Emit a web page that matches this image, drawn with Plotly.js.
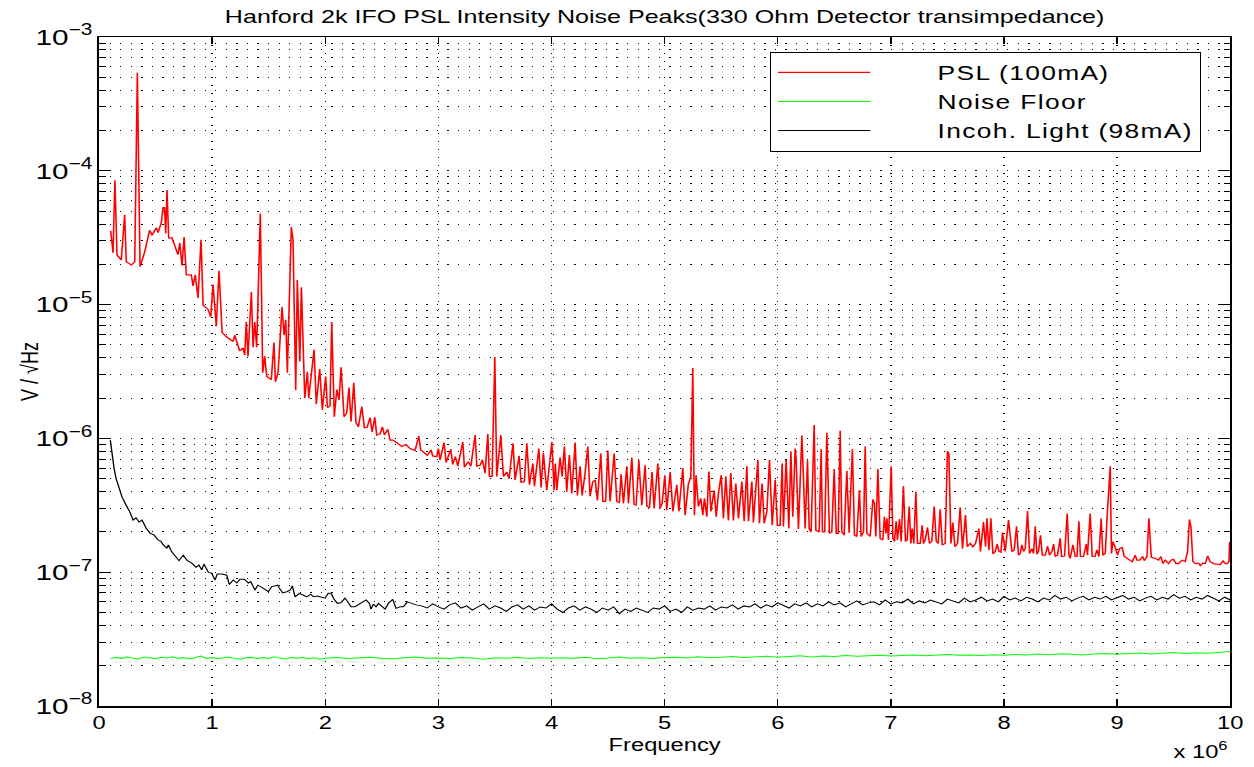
<!DOCTYPE html>
<html><head><meta charset="utf-8">
<script src="https://cdn.plot.ly/plotly-3.0.1.min.js"></script>
<style>
html,body{margin:0;padding:0;background:#fff;overflow:hidden;}
#wrap{width:1254px;height:767px;overflow:hidden;}
#chart{width:950px;height:767px;transform:scaleX(1.32);transform-origin:0 0;}
.legendtext{letter-spacing:1px;}
</style></head><body><div id="wrap"><div id="chart"></div></div>
<script>
// Frequencies in MHz (axis shows "x 10^6"), amplitudes in V/sqrt(Hz)
const pslFreq = [0.103,0.124,0.141,0.159,0.197,0.227,0.241,0.286,0.316,0.339,0.363,0.404,0.448,0.469,0.507,0.522,0.551,0.566,0.579,0.590,0.601,0.616,0.645,0.669,0.698,0.714,0.734,0.752,0.772,0.816,0.831,0.851,0.875,0.902,0.920,0.964,0.988,1.008,1.037,1.061,1.088,1.126,1.185,1.200,1.244,1.273,1.288,1.302,1.317,1.347,1.362,1.377,1.394,1.426,1.447,1.465,1.483,1.523,1.547,1.559,1.583,1.618,1.636,1.651,1.665,1.700,1.715,1.739,1.753,1.775,1.789,1.819,1.842,1.854,1.901,1.921,1.951,1.974,2.004,2.019,2.042,2.057,2.080,2.102,2.122,2.140,2.166,2.190,2.210,2.228,2.252,2.272,2.293,2.323,2.346,2.370,2.396,2.414,2.438,2.455,2.485,2.505,2.523,2.553,2.573,2.600,2.632,2.677,2.714,2.750,2.794,2.827,2.844,2.882,2.903,2.935,2.950,2.985,3.000,3.015,3.050,3.068,3.110,3.127,3.150,3.172,3.216,3.230,3.265,3.287,3.325,3.340,3.369,3.389,3.413,3.437,3.451,3.475,3.499,3.516,3.552,3.575,3.605,3.625,3.660,3.678,3.714,3.731,3.760,3.782,3.805,3.835,3.849,3.888,3.908,3.928,3.958,4.003,4.023,4.034,4.047,4.076,4.094,4.114,4.135,4.158,4.179,4.209,4.229,4.253,4.271,4.297,4.321,4.341,4.365,4.386,4.406,4.436,4.454,4.478,4.498,4.518,4.554,4.577,4.600,4.615,4.636,4.666,4.680,4.710,4.730,4.748,4.772,4.798,4.828,4.843,4.866,4.889,4.907,4.940,4.960,4.978,5.002,5.019,5.049,5.073,5.108,5.126,5.161,5.181,5.210,5.232,5.249,5.263,5.278,5.299,5.320,5.338,5.352,5.373,5.391,5.409,5.438,5.456,5.476,5.500,5.520,5.541,5.564,5.585,5.608,5.629,5.653,5.683,5.703,5.727,5.741,5.771,5.785,5.824,5.838,5.862,5.880,5.904,5.927,5.951,5.977,5.997,6.021,6.039,6.050,6.074,6.098,6.116,6.133,6.154,6.163,6.183,6.213,6.227,6.242,6.263,6.278,6.295,6.322,6.337,6.366,6.384,6.395,6.415,6.434,6.457,6.478,6.499,6.517,6.534,6.552,6.567,6.587,6.611,6.631,6.660,6.678,6.699,6.722,6.737,6.758,6.773,6.788,6.817,6.841,6.855,6.867,6.885,6.905,6.929,6.943,6.956,6.965,6.979,7.003,7.018,7.032,7.047,7.058,7.076,7.091,7.111,7.129,7.144,7.162,7.177,7.188,7.203,7.221,7.235,7.259,7.277,7.288,7.303,7.324,7.341,7.362,7.383,7.401,7.418,7.436,7.454,7.480,7.500,7.513,7.531,7.548,7.566,7.589,7.613,7.633,7.660,7.675,7.701,7.725,7.748,7.778,7.792,7.819,7.837,7.849,7.867,7.884,7.902,7.922,7.940,7.955,7.973,7.987,8.011,8.040,8.070,8.090,8.111,8.128,8.143,8.158,8.173,8.188,8.208,8.226,8.247,8.261,8.276,8.291,8.305,8.323,8.338,8.365,8.385,8.402,8.424,8.438,8.453,8.473,8.497,8.509,8.535,8.559,8.574,8.585,8.609,8.630,8.645,8.662,8.676,8.703,8.727,8.738,8.762,8.780,8.804,8.821,8.839,8.859,8.874,8.895,8.915,8.939,8.950,8.963,8.981,9.004,9.021,9.045,9.063,9.087,9.116,9.134,9.160,9.175,9.200,9.225,9.240,9.264,9.281,9.302,9.337,9.366,9.387,9.405,9.426,9.454,9.476,9.499,9.520,9.543,9.573,9.602,9.623,9.639,9.652,9.670,9.691,9.720,9.735,9.759,9.779,9.800,9.823,9.852,9.882,9.912,9.935,9.956,9.976,9.989,9.994];
const pslAmp = [3.56e-5,2.44e-5,8.5e-5,2.35e-5,2.16e-5,4.7e-5,2.09e-5,1.98e-5,2.09e-5,5.4e-4,1.92e-5,2.48e-5,3.6e-5,3.3e-5,3.75e-5,3.45e-5,4.1e-5,5.3e-5,5.3e-5,3.4e-5,7.2e-5,3.15e-5,3.15e-5,2.7e-5,2.36e-5,2.9e-5,1.95e-5,3.2e-5,1.67e-5,1.67e-5,1.38e-5,1.67e-5,1.12e-5,3.05e-5,9.9e-6,9.2e-6,8.1e-6,1.41e-5,6.9e-6,1.79e-5,6.2e-6,5.75e-6,5.3e-6,5.9e-6,4.5e-6,4.75e-6,4.2e-6,7.4e-6,4.1e-6,1.24e-5,4.8e-6,7.4e-6,4.8e-6,4.8e-5,3.1e-6,4.1e-6,2.9e-6,2.75e-6,5.2e-6,2.65e-6,3.1e-6,9.6e-6,5.9e-6,7.7e-6,3.1e-6,3.8e-5,3.04e-5,2.3e-6,1.53e-5,3.75e-6,1.35e-5,2.0e-6,3.15e-6,2.0e-6,4.6e-6,1.8e-6,3.3e-6,1.64e-6,2.9e-6,1.7e-6,1.75e-6,7.4e-6,1.45e-6,2.32e-6,1.94e-6,3.4e-6,1.45e-6,1.55e-6,2.4e-6,1.33e-6,2.6e-6,1.31e-6,1.22e-6,1.73e-6,1.2e-6,1.21e-6,1.43e-6,1.12e-6,1.44e-6,1.06e-6,1.08e-6,1.22e-6,1.06e-6,1.17e-6,9.7e-7,9.7e-7,9.2e-7,8.7e-7,9.0e-7,8.4e-7,8.1e-7,1.04e-6,8.2e-7,7.8e-7,7.5e-7,8.2e-7,7.4e-7,7.3e-7,8.4e-7,6.9e-7,9.3e-7,6.6e-7,8.3e-7,6.4e-7,7.3e-7,6.2e-7,9.4e-7,6.1e-7,6.7e-7,6.2e-7,1.06e-6,6.2e-7,6.3e-7,6.9e-7,5.5e-7,1.08e-6,5.2e-7,5.2e-7,4.06e-6,5.2e-7,1.06e-6,5.2e-7,5.6e-7,5.0e-7,9.2e-7,4.9e-7,7.4e-7,4.7e-7,4.75e-7,9.2e-7,4.5e-7,6.5e-7,4.4e-7,8.4e-7,4.3e-7,7.8e-7,4.1e-7,9.4e-7,4.1e-7,6.5e-7,4.1e-7,7.2e-7,5.2e-7,8.7e-7,4.0e-7,7.5e-7,3.88e-7,9.3e-7,3.75e-7,6.2e-7,3.75e-7,5.5e-7,8.7e-7,3.7e-7,4.75e-7,4.9e-7,3.44e-7,7.7e-7,3.38e-7,3.38e-7,8.1e-7,3.38e-7,7.7e-7,3.38e-7,3.32e-7,5.4e-7,3.27e-7,6.2e-7,3.27e-7,7.2e-7,3.21e-7,3.17e-7,6.85e-7,3.17e-7,6.3e-7,3.1e-7,3.05e-7,5.6e-7,3.0e-7,6.5e-7,3.0e-7,3.27e-7,5.3e-7,2.9e-7,5.6e-7,2.85e-7,4.5e-7,2.85e-7,6.0e-7,2.67e-7,4.55e-7,5.2e-7,3.36e-6,2.67e-7,5.3e-7,3.1e-7,3.56e-7,2.67e-7,3.56e-7,2.6e-7,5.65e-7,2.85e-7,4.1e-7,2.6e-7,3.9e-7,5.3e-7,2.52e-7,5.2e-7,2.44e-7,5.5e-7,2.44e-7,4.6e-7,2.52e-7,4.75e-7,2.4e-7,6.2e-7,2.4e-7,4.75e-7,2.35e-7,6.9e-7,2.32e-7,4.6e-7,2.32e-7,2.85e-7,6.9e-7,2.24e-7,4.9e-7,2.24e-7,2.24e-7,6.5e-7,2.2e-7,6.9e-7,2.12e-7,8.0e-7,2.6e-7,8.4e-7,7.0e-7,2.1e-7,1.05e-6,5.2e-7,2.12e-7,6.85e-7,2.12e-7,2.0e-7,1.26e-6,2.06e-7,2.0e-7,8.3e-7,2.0e-7,2.0e-7,1.1e-6,1.95e-7,2.0e-7,5.9e-7,1.95e-7,1.95e-7,1.14e-6,2.0e-7,1.89e-7,5.7e-7,1.97e-7,8.3e-7,1.89e-7,1.85e-7,4.1e-7,1.85e-7,2.0e-7,8.7e-7,1.95e-7,1.85e-7,3.5e-7,3.27e-7,1.85e-7,5.9e-7,1.79e-7,1.74e-7,2.6e-7,1.95e-7,2.53e-7,1.74e-7,6.2e-7,1.79e-7,1.7e-7,2.4e-7,1.74e-7,2.5e-7,1.7e-7,4.4e-7,1.7e-7,1.74e-7,3.1e-7,1.64e-7,2.12e-7,1.64e-7,4.0e-7,1.64e-7,1.64e-7,2.24e-7,1.64e-7,1.74e-7,2.16e-7,1.64e-7,1.7e-7,3.1e-7,1.7e-7,1.64e-7,2.95e-7,1.6e-7,1.64e-7,8.0e-7,7.7e-7,1.64e-7,2.35e-7,1.55e-7,1.64e-7,3.05e-7,1.5e-7,2.67e-7,1.55e-7,1.64e-7,1.55e-7,1.64e-7,2.12e-7,1.43e-7,2.37e-7,1.55e-7,2.53e-7,1.46e-7,2.53e-7,1.37e-7,1.43e-7,1.62e-7,1.43e-7,1.41e-7,1.98e-7,1.43e-7,2.45e-7,1.43e-7,1.46e-7,2.2e-7,1.34e-7,1.38e-7,1.6e-7,1.43e-7,1.5e-7,2.86e-7,1.38e-7,1.5e-7,1.38e-7,2.2e-7,1.36e-7,1.43e-7,1.89e-7,1.34e-7,1.34e-7,1.57e-7,1.34e-7,1.43e-7,1.62e-7,1.31e-7,1.34e-7,1.79e-7,1.31e-7,1.32e-7,2.75e-7,1.34e-7,1.27e-7,1.6e-7,1.31e-7,1.31e-7,2.4e-7,1.31e-7,1.31e-7,1.62e-7,1.34e-7,2.75e-7,1.31e-7,1.31e-7,1.46e-7,1.31e-7,2.52e-7,1.34e-7,1.38e-7,2.9e-7,6.2e-7,1.38e-7,1.69e-7,1.55e-7,1.34e-7,1.5e-7,1.53e-7,1.31e-7,1.27e-7,1.23e-7,1.2e-7,1.34e-7,1.23e-7,1.23e-7,1.31e-7,1.22e-7,1.31e-7,2.53e-7,1.29e-7,1.27e-7,1.23e-7,1.31e-7,1.16e-7,1.23e-7,1.16e-7,1.23e-7,1.25e-7,1.16e-7,1.16e-7,1.23e-7,1.2e-7,1.43e-7,2.48e-7,2.2e-7,1.2e-7,1.16e-7,1.17e-7,1.12e-7,1.17e-7,1.16e-7,1.32e-7,1.2e-7,1.16e-7,1.15e-7,1.14e-7,1.22e-7,1.16e-7,1.16e-7,1.2e-7,1.69e-7];

const floorFreq = [0.1,0.15,0.2,0.25,0.3,0.35,0.4,0.45,0.5,0.55,0.6,0.65,0.7,0.75,0.8,0.85,0.9,0.95,1.0,1.05,1.1,1.15,1.2,1.25,1.3,1.35,1.4,1.45,1.5,1.55,1.6,1.65,1.7,1.75,1.8,1.85,1.9,1.95,2.0,2.1,2.2,2.3,2.4,2.5,2.6,2.7,2.8,2.9,3.0,3.1,3.2,3.3,3.4,3.5,3.6,3.7,3.8,3.9,4.0,4.1,4.2,4.3,4.4,4.5,4.6,4.7,4.8,4.9,5.0,5.1,5.2,5.3,5.4,5.5,5.6,5.7,5.8,5.9,6.0,6.1,6.2,6.3,6.4,6.5,6.6,6.7,6.8,6.9,7.0,7.1,7.2,7.3,7.4,7.5,7.6,7.7,7.8,7.9,8.0,8.1,8.2,8.3,8.4,8.5,8.6,8.7,8.8,8.9,9.0,9.1,9.2,9.3,9.4,9.5,9.6,9.7,9.8,9.9,10.0];
const floorAmp = [2.26e-8,2.31e-8,2.27e-8,2.33e-8,2.28e-8,2.25e-8,2.32e-8,2.29e-8,2.26e-8,2.31e-8,2.28e-8,2.33e-8,2.27e-8,2.30e-8,2.25e-8,2.29e-8,2.36e-8,2.27e-8,2.30e-8,2.26e-8,2.29e-8,2.32e-8,2.27e-8,2.24e-8,2.29e-8,2.31e-8,2.26e-8,2.30e-8,2.27e-8,2.33e-8,2.28e-8,2.25e-8,2.30e-8,2.27e-8,2.31e-8,2.26e-8,2.29e-8,2.24e-8,2.27e-8,2.30e-8,2.26e-8,2.29e-8,2.31e-8,2.27e-8,2.25e-8,2.29e-8,2.32e-8,2.27e-8,2.28e-8,2.26e-8,2.30e-8,2.28e-8,2.24e-8,2.29e-8,2.27e-8,2.31e-8,2.26e-8,2.29e-8,2.27e-8,2.29e-8,2.27e-8,2.31e-8,2.26e-8,2.28e-8,2.32e-8,2.27e-8,2.29e-8,2.26e-8,2.30e-8,2.31e-8,2.28e-8,2.33e-8,2.29e-8,2.31e-8,2.34e-8,2.30e-8,2.32e-8,2.35e-8,2.31e-8,2.34e-8,2.37e-8,2.32e-8,2.36e-8,2.34e-8,2.38e-8,2.35e-8,2.37e-8,2.39e-8,2.36e-8,2.38e-8,2.41e-8,2.37e-8,2.40e-8,2.43e-8,2.39e-8,2.41e-8,2.38e-8,2.42e-8,2.40e-8,2.43e-8,2.41e-8,2.45e-8,2.42e-8,2.46e-8,2.44e-8,2.41e-8,2.45e-8,2.47e-8,2.44e-8,2.46e-8,2.49e-8,2.45e-8,2.48e-8,2.51e-8,2.47e-8,2.50e-8,2.48e-8,2.52e-8,2.55e-8];

const incohFreq = [0.100,0.115,0.133,0.150,0.177,0.203,0.239,0.274,0.301,0.327,0.354,0.380,0.416,0.451,0.486,0.522,0.548,0.569,0.599,0.613,0.643,0.672,0.707,0.745,0.781,0.820,0.858,0.884,0.908,0.928,0.966,0.996,1.026,1.046,1.085,1.129,1.152,1.187,1.218,1.247,1.285,1.320,1.341,1.379,1.403,1.439,1.468,1.497,1.527,1.547,1.580,1.594,1.624,1.660,1.689,1.709,1.733,1.771,1.801,1.836,1.872,1.895,1.930,1.969,1.998,2.027,2.051,2.078,2.107,2.137,2.175,2.199,2.228,2.263,2.293,2.332,2.361,2.390,2.405,2.425,2.449,2.470,2.500,2.529,2.558,2.597,2.626,2.661,2.691,2.726,2.765,2.803,2.85,2.90,2.95,3.00,3.05,3.10,3.15,3.20,3.25,3.30,3.35,3.40,3.45,3.50,3.55,3.60,3.65,3.70,3.75,3.80,3.85,3.90,3.95,4.00,4.05,4.10,4.15,4.20,4.25,4.30,4.35,4.40,4.45,4.50,4.55,4.60,4.65,4.70,4.75,4.80,4.85,4.90,4.95,5.00,5.05,5.10,5.15,5.20,5.25,5.30,5.35,5.40,5.45,5.50,5.55,5.60,5.65,5.70,5.75,5.80,5.85,5.90,5.95,6.00,6.05,6.10,6.15,6.20,6.25,6.30,6.35,6.40,6.45,6.50,6.55,6.60,6.65,6.70,6.75,6.80,6.85,6.90,6.95,7.00,7.05,7.10,7.15,7.20,7.25,7.30,7.35,7.40,7.45,7.50,7.55,7.60,7.65,7.70,7.75,7.80,7.85,7.90,7.95,8.00,8.05,8.10,8.15,8.20,8.25,8.30,8.35,8.40,8.45,8.50,8.55,8.60,8.65,8.70,8.75,8.80,8.85,8.90,8.95,9.00,9.05,9.10,9.15,9.20,9.25,9.30,9.35,9.40,9.45,9.50,9.55,9.60,9.65,9.70,9.75,9.80,9.85,9.90,9.95,10.00];
const incohAmp = [9.7e-7,7.5e-7,6.0e-7,5.05e-7,4.25e-7,3.65e-7,3.18e-7,2.8e-7,2.45e-7,2.55e-7,2.37e-7,2.45e-7,2.14e-7,1.96e-7,1.9e-7,1.74e-7,1.7e-7,1.6e-7,1.51e-7,1.6e-7,1.42e-7,1.31e-7,1.22e-7,1.34e-7,1.22e-7,1.17e-7,1.09e-7,1.13e-7,1.04e-7,1.15e-7,1.0e-7,9.8e-8,8.75e-8,9.7e-8,9.7e-8,9.5e-8,8.1e-8,8.75e-8,8.3e-8,8.85e-8,8.85e-8,8.3e-8,8.5e-8,7.35e-8,8.0e-8,7.7e-8,7.45e-8,7.15e-8,7.8e-8,7.9e-8,8.0e-8,7.6e-8,7.0e-8,7.15e-8,7.35e-8,7.9e-8,6.55e-8,6.95e-8,6.75e-8,6.55e-8,6.85e-8,6.55e-8,6.65e-8,6.55e-8,6.4e-8,6.95e-8,6.95e-8,6.27e-8,5.85e-8,5.9e-8,6.4e-8,6.0e-8,5.52e-8,5.52e-8,5.7e-8,6.0e-8,6.2e-8,5.85e-8,5.3e-8,5.78e-8,5.52e-8,5.85e-8,5.52e-8,5.3e-8,5.85e-8,6.27e-8,5.37e-8,5.52e-8,5.52e-8,6.0e-8,5.85e-8,5.7e-8,
5.6e-8,5.4e-8,5.8e-8,5.5e-8,5.3e-8,5.7e-8,5.9e-8,5.4e-8,5.6e-8,5.2e-8,
5.5e-8,5.8e-8,5.3e-8,5.6e-8,5.4e-8,5.1e-8,5.5e-8,5.7e-8,5.3e-8,5.6e-8,
5.2e-8,5.5e-8,5.4e-8,5.8e-8,5.3e-8,5.0e-8,5.4e-8,5.6e-8,5.2e-8,5.5e-8,
5.3e-8,5.0e-8,5.4e-8,5.2e-8,5.5e-8,4.9e-8,5.3e-8,5.1e-8,5.4e-8,5.2e-8,
5.0e-8,5.4e-8,5.3e-8,5.6e-8,5.1e-8,5.3e-8,5.0e-8,5.5e-8,5.2e-8,5.4e-8,
5.3e-8,5.6e-8,5.2e-8,5.5e-8,5.4e-8,5.7e-8,5.3e-8,5.6e-8,5.5e-8,5.8e-8,
5.4e-8,5.7e-8,5.5e-8,5.9e-8,5.6e-8,5.4e-8,5.8e-8,5.6e-8,5.9e-8,5.5e-8,
5.8e-8,5.6e-8,6.0e-8,5.7e-8,5.9e-8,5.5e-8,5.8e-8,6.1e-8,5.7e-8,5.9e-8,
6.0e-8,5.7e-8,6.2e-8,5.8e-8,6.0e-8,5.9e-8,6.3e-8,5.8e-8,6.1e-8,5.9e-8,
6.2e-8,6.0e-8,5.8e-8,6.3e-8,6.1e-8,5.9e-8,6.4e-8,6.0e-8,6.2e-8,6.5e-8,
6.1e-8,6.3e-8,6.0e-8,6.6e-8,6.2e-8,6.4e-8,6.1e-8,6.5e-8,6.3e-8,6.0e-8,
6.4e-8,6.2e-8,6.7e-8,6.3e-8,6.5e-8,6.1e-8,6.4e-8,6.6e-8,6.2e-8,6.5e-8,
6.3e-8,6.6e-8,6.2e-8,6.4e-8,6.7e-8,6.3e-8,6.5e-8,6.1e-8,6.4e-8,6.6e-8,
6.2e-8,6.5e-8,6.3e-8,6.8e-8,6.4e-8,6.6e-8,6.2e-8,6.5e-8,6.3e-8,6.7e-8,
6.4e-8,6.1e-8,6.5e-8,6.2e-8];

const seriesNames = ['PSL (100mA)', 'Noise Floor', 'Incoh. Light (98mA)'];
const seriesColors = ['#ff0000', '#00ff00', '#000000'];
const seriesWidths = [1.2, 1, 1];
const titleText = 'Hanford 2k IFO PSL Intensity Noise Peaks(330 Ohm Detector transimpedance)';
const xTitle = 'Frequency';
const yTitle = 'V / \u221AHz';
const xExponentLabel = 'x 10<sup>6</sup>';

const FONT = '"Liberation Sans", Arial, Helvetica, sans-serif';
const DOT = '1px,7px';
const pad = '\u00a0\u00a0\u00a0\u00a0\u00a0\u00a0\u00a0';

const traces = [
  {x: pslFreq, y: pslAmp, name: pad + seriesNames[0]},
  {x: floorFreq, y: floorAmp, name: pad + seriesNames[1]},
  {x: incohFreq, y: incohAmp, name: pad + seriesNames[2]}
].map((t, i) => Object.assign(t, {type: 'scatter', mode: 'lines', line: {color: seriesColors[i], width: seriesWidths[i]}, hoverinfo: 'skip'}));

const layout = {
  width: 950, height: 767,
  margin: {l: 75, r: 18, t: 37, b: 61},
  paper_bgcolor: '#fff', plot_bgcolor: '#fff',
  font: {family: FONT, color: '#000', size: 18},
  title: {text: titleText, font: {size: 19, family: FONT, color: '#000'}, xref: 'paper', x: 0.5, xanchor: 'center', yref: 'container', y: 1 - 16/767, yanchor: 'middle'},
  showlegend: true,
  legend: {x: 0.593, y: 0.978, xanchor: 'left', yanchor: 'top', bgcolor: '#fff', bordercolor: '#000', borderwidth: 1.2, font: {size: 20, family: FONT, color: '#000'}, itemwidth: 70, tracegroupgap: 0},
  xaxis: {
    range: [0, 10], tick0: 0, dtick: 1, ticks: 'inside', ticklen: 7, tickwidth: 1, tickcolor: '#000',
    showline: true, linecolor: '#000', linewidth: 1.5, mirror: 'ticks',
    showgrid: true, gridcolor: '#000', gridwidth: 1, griddash: DOT, zeroline: false,
    tickfont: {size: 18}, title: {text: xTitle, font: {size: 18}, standoff: 6}
  },
  yaxis: {
    type: 'log', range: [-8, -3], dtick: 1, exponentformat: 'power', showexponent: 'all',
    ticks: 'inside', ticklen: 9, tickwidth: 1, tickcolor: '#000',
    showline: true, linecolor: '#000', linewidth: 1.5, mirror: 'ticks',
    showgrid: true, gridcolor: '#000', gridwidth: 1, griddash: DOT, zeroline: false,
    minor: {dtick: 'D1', ticks: 'inside', ticklen: 5, tickcolor: '#000', tickwidth: 1, showgrid: true, gridcolor: '#000', gridwidth: 1, griddash: DOT},
    tickfont: {size: 18}, automargin: false, title: {text: yTitle, font: {size: 18}}
  },
  annotations: [{text: xExponentLabel, xref: 'paper', yref: 'paper', x: 1.0, y: -0.066, xanchor: 'right', yanchor: 'middle', showarrow: false, font: {size: 18, family: FONT, color: '#000'}}]
};

Plotly.newPlot('chart', traces, layout, {staticPlot: true, displayModeBar: false});
</script></body></html>
